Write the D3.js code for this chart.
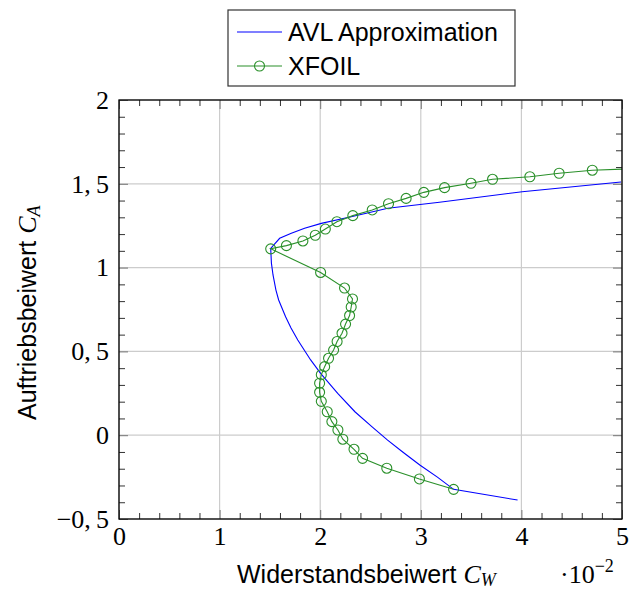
<!DOCTYPE html>
<html>
<head>
<meta charset="utf-8">
<script src="https://cdn.jsdelivr.net/npm/d3@7"></script>
<style>
  body, html { margin: 0; padding: 0; background: #fff; }
  svg { display: block; }
  .tick text { font-family: "Liberation Serif", "DejaVu Serif", serif; font-size: 26px; fill: #000; }
  .lbl { font-family: "Liberation Sans", Arial, sans-serif; font-size: 25px; }
  .math { font-family: "Liberation Serif", "DejaVu Serif", serif; font-style: italic; }
  .rm { font-family: "Liberation Serif", "DejaVu Serif", serif; }
</style>
</head>
<body>
<svg width="641" height="589"></svg>
<script>

// lift coefficient C_A vs drag coefficient C_W

// AVL approximation (blue line)
var avlCW = [0.03962, 0.03326, 0.03165, 0.02990, 0.02820, 0.02670, 0.02516, 0.02345, 0.02174,
             0.02004, 0.01905, 0.01777, 0.01710, 0.01656, 0.01587, 0.01560, 0.01531, 0.01515,
             0.01508, 0.01597, 0.01713, 0.01845, 0.02011, 0.02341, 0.02672, 0.03185, 0.04008, 0.04990];
var avlCA = [-0.387, -0.323, -0.250, -0.178, -0.100, -0.029, 0.050, 0.140, 0.250,
             0.369, 0.449, 0.568, 0.640, 0.707, 0.807, 0.866, 0.956, 1.027,
             1.114, 1.175, 1.205, 1.235, 1.264, 1.308, 1.354, 1.390, 1.453, 1.511];

// XFOIL polar (green line with circles)
var xfoilCW = [0.03326, 0.02986, 0.02662, 0.02421, 0.02336, 0.02225, 0.02176, 0.02116, 0.02070,
               0.02011, 0.01994, 0.01994, 0.02011, 0.02044, 0.02083, 0.02133, 0.02168, 0.02217,
               0.02252, 0.02292, 0.02308, 0.02321, 0.02242, 0.02004, 0.01508,
               0.01664, 0.01828, 0.01951, 0.02051, 0.02166, 0.02324, 0.02517, 0.02679, 0.02854,
               0.03030, 0.03236, 0.03499, 0.03713, 0.04084, 0.04375, 0.04705, 0.05100];
var xfoilCA = [-0.323, -0.261, -0.197, -0.138, -0.084, -0.024, 0.031, 0.081, 0.140,
               0.202, 0.256, 0.310, 0.361, 0.409, 0.459, 0.508, 0.559, 0.608,
               0.663, 0.714, 0.765, 0.813, 0.878, 0.971, 1.112,
               1.131, 1.159, 1.193, 1.230, 1.274, 1.310, 1.344, 1.381, 1.413,
               1.449, 1.477, 1.503, 1.527, 1.542, 1.563, 1.581, 1.590];

var xMajor = [0, 0.01, 0.02, 0.03, 0.04, 0.05];
var yMajor = [-0.5, 0, 0.5, 1, 1.5, 2];
var yLabels = ['\u22120,\u20095', '0', '0,\u20095', '1', '1,\u20095', '2'];

var seriesNames = ['AVL Approximation', 'XFOIL'];

var svg = d3.select('svg');
var pLeft = 119, pRight = 622, pTop = 100, pBottom = 519;

var x = d3.scaleLinear().domain([0, 0.05]).range([pLeft, pRight]);
var y = d3.scaleLinear().domain([-0.5, 2]).range([pBottom, pTop]);

var xMinor = d3.range(0, 0.0501, 0.002).filter(function (v) { return Math.abs(v * 100 - Math.round(v * 100)) > 1e-6; });
var yMinor = d3.range(-0.5, 2.001, 0.1).filter(function (v) { return Math.abs(v * 2 - Math.round(v * 2)) > 1e-6; });

// grid
var grid = svg.append('g').attr('stroke', '#cccccc').attr('stroke-width', 1.2);
grid.selectAll('.gx').data(xMajor).enter().append('line')
  .attr('x1', function (d) { return x(d); }).attr('x2', function (d) { return x(d); })
  .attr('y1', pTop).attr('y2', pBottom);
grid.selectAll('.gy').data(yMajor).enter().append('line')
  .attr('y1', function (d) { return y(d); }).attr('y2', function (d) { return y(d); })
  .attr('x1', pLeft).attr('x2', pRight);

// axes: ticks inside on all four sides
function styleAxis(g, color) {
  g.select('.domain').remove();
  g.selectAll('.tick line').attr('stroke', color).attr('stroke-width', 1);
}

svg.append('g').attr('transform', 'translate(0,' + pBottom + ')')
  .call(d3.axisBottom(x).tickValues(xMinor).tickSize(-6).tickFormat(''))
  .call(styleAxis, '#333');
svg.append('g').attr('transform', 'translate(0,' + pTop + ')')
  .call(d3.axisTop(x).tickValues(xMinor).tickSize(-6).tickFormat(''))
  .call(styleAxis, '#333');
svg.append('g').attr('transform', 'translate(' + pLeft + ',0)')
  .call(d3.axisLeft(y).tickValues(yMinor).tickSize(-6).tickFormat(''))
  .call(styleAxis, '#333');
svg.append('g').attr('transform', 'translate(' + pRight + ',0)')
  .call(d3.axisRight(y).tickValues(yMinor).tickSize(-6).tickFormat(''))
  .call(styleAxis, '#333');

svg.append('g').attr('transform', 'translate(0,' + pBottom + ')')
  .call(d3.axisBottom(x).tickValues(xMajor).tickSize(-9).tickPadding(8)
    .tickFormat(function (d) { return String(Math.round(d * 100)); }))
  .call(styleAxis, '#777');
svg.append('g').attr('transform', 'translate(0,' + pTop + ')')
  .call(d3.axisTop(x).tickValues(xMajor).tickSize(-9).tickFormat(''))
  .call(styleAxis, '#777');
svg.append('g').attr('transform', 'translate(' + pLeft + ',0)')
  .call(d3.axisLeft(y).tickValues(yMajor).tickSize(-9).tickPadding(10)
    .tickFormat(function (d, i) { return yLabels[i]; }))
  .call(styleAxis, '#777');
svg.append('g').attr('transform', 'translate(' + pRight + ',0)')
  .call(d3.axisRight(y).tickValues(yMajor).tickSize(-9).tickFormat(''))
  .call(styleAxis, '#777');

// data
svg.append('clipPath').attr('id', 'plotclip').append('rect')
  .attr('x', pLeft).attr('y', pTop).attr('width', pRight - pLeft).attr('height', pBottom - pTop);

var plot = svg.append('g').attr('clip-path', 'url(#plotclip)');
var line = d3.line()
  .x(function (d) { return x(d[0]); })
  .y(function (d) { return y(d[1]); });

var avl = d3.zip(avlCW, avlCA);
var xfoil = d3.zip(xfoilCW, xfoilCA);

plot.append('path').datum(avl).attr('d', line)
  .attr('fill', 'none').attr('stroke', '#0000ff').attr('stroke-width', 1.1);

plot.append('path').datum(xfoil).attr('d', line)
  .attr('fill', 'none').attr('stroke', '#2a902a').attr('stroke-width', 1.1);
plot.selectAll('circle').data(xfoil).enter().append('circle')
  .attr('cx', function (d) { return x(d[0]); })
  .attr('cy', function (d) { return y(d[1]); })
  .attr('r', 5)
  .attr('fill', 'none').attr('stroke', '#2a902a').attr('stroke-width', 1.1);

// frame
svg.append('rect').attr('x', pLeft).attr('y', pTop)
  .attr('width', pRight - pLeft).attr('height', pBottom - pTop)
  .attr('fill', 'none').attr('stroke', '#000').attr('stroke-width', 1.3);

// axis labels
var xl = svg.append('text').attr('class', 'lbl').attr('x', 237).attr('y', 583);
xl.append('tspan').text('Widerstandsbeiwert ');
xl.append('tspan').attr('class', 'math').attr('font-size', 26).text('C');
xl.append('tspan').attr('class', 'math').attr('font-size', 18).attr('dy', 3).text('W');

var sc = svg.append('text').attr('class', 'rm').attr('x', 560).attr('y', 583).attr('font-size', 26);
sc.append('tspan').text('\u00b710');
sc.append('tspan').attr('font-size', 18).attr('dy', -11).text('\u22122');

var yl = svg.append('text').attr('class', 'lbl')
  .attr('transform', 'translate(36,420) rotate(-90)');
yl.append('tspan').text('Auftriebsbeiwert ');
yl.append('tspan').attr('class', 'math').attr('font-size', 26).text('C');
yl.append('tspan').attr('class', 'math').attr('font-size', 18).attr('dy', 4).text('A');

// legend
var legend = svg.append('g');
legend.append('rect').attr('x', 228).attr('y', 10).attr('width', 287).attr('height', 76)
  .attr('fill', '#fff').attr('stroke', '#333').attr('stroke-width', 1.2);

var rows = legend.selectAll('.row').data(seriesNames).enter().append('g')
  .attr('transform', function (d, i) { return 'translate(0,' + (32 + i * 34) + ')'; });
rows.append('line').attr('x1', 237).attr('x2', 282)
  .attr('stroke', function (d, i) { return i === 0 ? '#0000ff' : '#2a902a'; })
  .attr('stroke-width', 1.1);
rows.filter(function (d, i) { return i === 1; }).append('circle')
  .attr('cx', 259.5).attr('cy', 0).attr('r', 5)
  .attr('fill', 'none').attr('stroke', '#2a902a').attr('stroke-width', 1.1);
rows.append('text').attr('class', 'lbl').attr('x', 288).attr('y', 8.5)
  .text(function (d) { return d; });

</script>
</body>
</html>
